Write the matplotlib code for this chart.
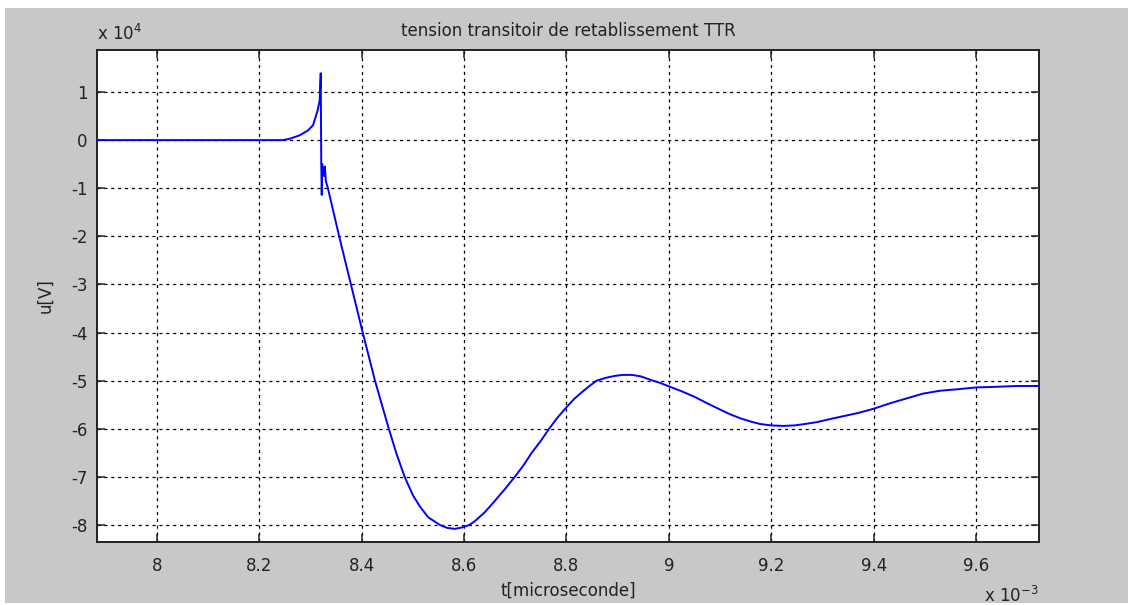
import matplotlib
matplotlib.use("Agg")
import matplotlib.pyplot as plt
from matplotlib.patches import Rectangle

# time in units of 1e-3 s, voltage in units of 1e4 V
t_ms = [7.883, 8.246, 8.260, 8.279, 8.295, 8.305, 8.314, 8.318, 8.320,
        8.321, 8.322, 8.323, 8.327, 8.328, 8.330, 8.334, 8.356, 8.379,
        8.402, 8.426, 8.440, 8.453, 8.468, 8.484, 8.500, 8.514, 8.530,
        8.553, 8.567, 8.582, 8.596, 8.610, 8.621, 8.640, 8.660, 8.680,
        8.699, 8.716, 8.732, 8.750, 8.766, 8.783, 8.801, 8.815, 8.830,
        8.845, 8.859, 8.877, 8.895, 8.910, 8.928, 8.945, 8.969, 8.984,
        8.998, 9.025, 9.051, 9.075, 9.100, 9.120, 9.139, 9.160, 9.178,
        9.200, 9.223, 9.245, 9.266, 9.290, 9.314, 9.340, 9.370, 9.398,
        9.432, 9.464, 9.496, 9.529, 9.562, 9.601, 9.633, 9.680, 9.723]
u_1e4V = [0.0, 0.0, 0.03, 0.10, 0.20, 0.31, 0.62, 0.83, 1.39,
          -0.46, -1.14, -0.50, -0.75, -0.55, -0.85, -1.00, -2.00, -3.00,
          -4.00, -5.00, -5.52, -6.00, -6.52, -7.00, -7.38, -7.62, -7.84,
          -8.00, -8.06, -8.08, -8.05, -8.00, -7.92, -7.74, -7.50, -7.25,
          -7.00, -6.76, -6.50, -6.25, -6.00, -5.76, -5.54, -5.38, -5.24,
          -5.11, -5.00, -4.94, -4.90, -4.88, -4.88, -4.91, -5.00, -5.05,
          -5.11, -5.22, -5.34, -5.47, -5.60, -5.70, -5.78, -5.85, -5.90,
          -5.93, -5.94, -5.93, -5.90, -5.86, -5.80, -5.74, -5.67, -5.59,
          -5.47, -5.37, -5.27, -5.21, -5.18, -5.14, -5.13, -5.11, -5.11]

x_ticks = [8.0, 8.2, 8.4, 8.6, 8.8, 9.0, 9.2, 9.4, 9.6]
y_ticks = [1, 0, -1, -2, -3, -4, -5, -6, -7, -8]

title = "tension transitoir de retablissement TTR"
xlabel = "t[microseconde]"
ylabel = "u[V]"

plt.rcParams['font.family'] = ['DejaVu Sans']

W, H = 1131, 605
fig = plt.figure(figsize=(W / 100, H / 100), dpi=100, facecolor='white')
fig.patches.append(Rectangle((5 / W, 2 / H), 1123 / W, 595 / H,
                             transform=fig.transFigure, facecolor='#c8c8c8',
                             edgecolor='none', zorder=-10))

ax = fig.add_axes([97 / W, 1 - 542 / H, (1039 - 97) / W, (542 - 50) / H])
ax.set_facecolor('white')
ax.plot(t_ms, u_1e4V, color='#0000ff', lw=1.4, zorder=3)

ax.set_xlim(7.883, 9.723)
ax.set_ylim(-8.353, 1.873)
ax.set_xticks(x_ticks)
ax.set_xticklabels([f"{v:g}" for v in x_ticks])
ax.set_yticks(y_ticks)
ax.set_yticklabels([f"{v:g}" for v in y_ticks])

ax.grid(True, color='black', linestyle=(0, (2.5, 3)), linewidth=0.9)
ax.tick_params(direction='in', length=6, width=1.1, top=True, right=True,
               labelsize=12, colors='#222222')
ax.tick_params(axis='x', pad=11)
ax.tick_params(axis='y', pad=7)
for s in ax.spines.values():
    s.set_linewidth(1.4)
    s.set_color('#222222')

ax.set_title(title, fontsize=12, color='#222222', pad=10)
ax.set_xlabel(xlabel, fontsize=12, color='#222222', labelpad=5)
ax.set_ylabel(ylabel, fontsize=12, color='#222222', labelpad=12)

ax.text(0.0, 1.012, r"x 10$^{4}$", transform=ax.transAxes, fontsize=12,
        color='#222222', ha='left', va='bottom')
ax.text(1.0, -0.09, r"x 10$^{-3}$", transform=ax.transAxes, fontsize=12,
        color='#222222', ha='right', va='top')

fig.savefig("out.png", dpi=100, facecolor=fig.get_facecolor())
